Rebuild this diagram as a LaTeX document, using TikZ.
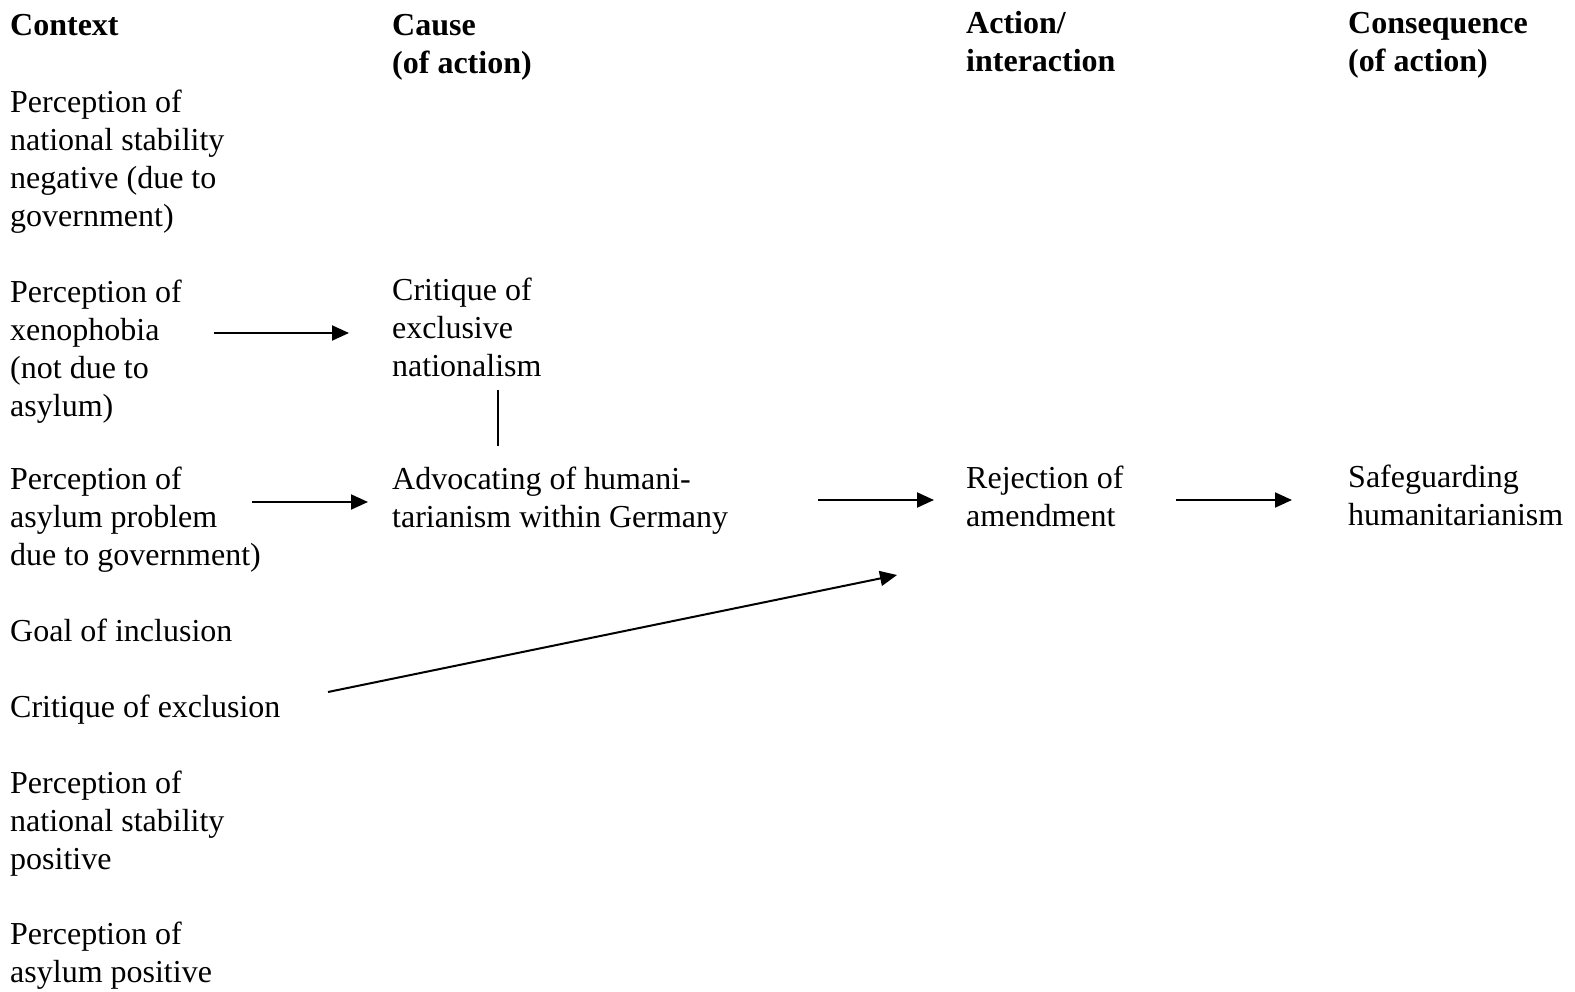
\documentclass[tikz,border=0pt]{standalone}
\usepackage{fontspec}
\setmainfont{Liberation Serif}
\usetikzlibrary{arrows.meta}
\begin{document}
\begin{tikzpicture}[x=1pt,y=-1pt,
  txt/.style={anchor=base west,align=left,inner sep=0pt,
    font=\fontsize{32}{38}\selectfont},
  head/.style={txt,font=\fontsize{32}{38}\selectfont\bfseries},
  arr/.style={line width=2pt,-{Triangle[length=17pt,width=15pt]}},
  link/.style={line width=1.6pt}]
\useasboundingbox (0,0) rectangle (1575,992);

% column headings (placed by the baseline of their last line)
\node[head] (hContext) at (10,36) {Context};
\node[head] (hCause) at (392,74) {Cause\\(of action)};
\node[head] (hAction) at (966,72) {Action/\\interaction};
\node[head] (hCons) at (1348,72) {Consequence\\(of action)};

% context column
\node[txt] (stabNeg) at (10,227) {Perception of\\national stability\\negative (due to\\government)};
\node[txt] (xeno) at (10,416) {Perception of\\xenophobia\\(not due to\\asylum)};
\node[txt] (asylProb) at (10,565) {Perception of\\asylum problem\\due to government)};
\node[txt] (goal) at (10,641) {Goal of inclusion};
\node[txt] (critExcl) at (10,717) {Critique of exclusion};
\node[txt] (stabPos) at (10,869) {Perception of\\national stability\\positive};
\node[txt] (asylPos) at (10,982) {Perception of\\asylum positive};

% cause column
\node[txt] (critNat) at (392,377) {Critique of\\exclusive\\nationalism};
\node[txt] (advoc) at (392,527) {Advocating of humani-\\tarianism within Germany};

% action and consequence
\node[txt] (reject) at (966,526) {Rejection of\\amendment};
\node[txt] (safe) at (1348,525) {Safeguarding\\humanitarianism};

% connector end points
\coordinate (xenoOut) at (214,333);
\coordinate (critNatIn) at (349,333);
\coordinate (critNatOut) at (498,390);
\coordinate (advocIn) at (498,446);
\coordinate (asylProbOut) at (252,502);
\coordinate (advocIn2) at (368,502);
\coordinate (advocOut) at (818,500);
\coordinate (rejectIn) at (934,500);
\coordinate (rejectOut) at (1176,500);
\coordinate (safeIn) at (1292,500);
\coordinate (critExclOut) at (328,692);
\coordinate (rejectIn2) at (897,575);

% connectors
\draw[arr] (xenoOut) -- (critNatIn);
\draw[link] (critNatOut) -- (advocIn);
\draw[arr] (asylProbOut) -- (advocIn2);
\draw[arr] (advocOut) -- (rejectIn);
\draw[arr] (rejectOut) -- (safeIn);
\draw[arr] (critExclOut) -- (rejectIn2);
\end{tikzpicture}
\end{document}
